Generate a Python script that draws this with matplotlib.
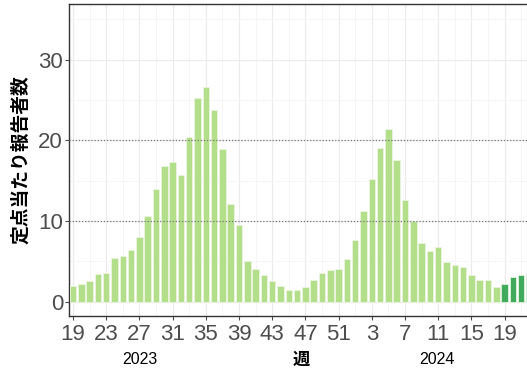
import matplotlib
matplotlib.use("Agg")
import matplotlib.pyplot as plt
from matplotlib.ticker import FixedLocator

plt.rcParams['font.family'] = ['Liberation Sans', 'Noto Sans CJK JP', 'DejaVu Sans']

weeks_2023 = list(range(19, 53))
values_2023 = [2.0, 2.2, 2.6, 3.4, 3.6, 5.4, 5.7, 6.4, 8.0, 10.6,
               14.0, 16.8, 17.3, 15.7, 20.4, 25.2, 26.6, 23.8, 18.9, 12.1,
               9.5, 5.1, 4.1, 3.3, 2.6, 2.0, 1.45, 1.45, 1.86, 2.65,
               3.5, 3.9, 4.1, 5.3]
weeks_2024 = list(range(1, 23))
values_2024 = [7.65, 11.2, 15.2, 19.05, 21.4, 17.55, 12.6, 9.95, 7.27, 6.24,
               6.76, 4.92, 4.5, 4.26, 3.35, 2.65, 2.73, 1.82, 2.23, 3.1,
               3.27, 3.5]
current_from_week_2024 = 19

tick_labels = ["19", "23", "27", "31", "35", "39", "43", "47", "51", "3", "7", "11", "15", "19"]
year_labels = ["2023", "2024"]

light = "#b3df8a"
dark = "#41ab5d"

values = values_2023 + values_2024
colors = [light] * len(values_2023) + [dark if w >= current_from_week_2024 else light for w in weeks_2024]
idx = list(range(len(values)))

fig = plt.figure(figsize=(5.27, 3.75), dpi=100)
W, H = 527, 375
px = 8.3
x0 = -0.45
x1 = 60
left = 69.3 / W
bottom = 1 - 316 / H
top = 1 - 4 / H
width = (x1 - x0) * px / W
ax = fig.add_axes([left, bottom, width, top - bottom])

ax.set_facecolor("white")
ax.bar(idx, values, width=0.78, color=colors, edgecolor="#eef8e6", linewidth=0.5, zorder=3)

ax.set_xlim(x0, x1)
ax.set_ylim(-1.77, 36.9)

ax.yaxis.set_major_locator(FixedLocator([0, 10, 20, 30]))
ax.yaxis.set_minor_locator(FixedLocator([5, 15, 25, 35]))
ax.xaxis.set_major_locator(FixedLocator(list(range(0, 53, 4))))
ax.xaxis.set_minor_locator(FixedLocator(list(range(2, 60, 4))))
ax.set_xticklabels(tick_labels)

ax.grid(which="major", color="#ebebeb", linewidth=0.8, zorder=0)
ax.grid(which="minor", color="#f4f4f4", linewidth=0.6, zorder=0)
for yv in (10, 20):
    ax.axhline(yv, color="#777777", linestyle=(0, (1, 1.5)), linewidth=0.9, zorder=4)

for s in ax.spines.values():
    s.set_color("#333333")
    s.set_linewidth(1.0)

ax.tick_params(axis="both", which="major", labelsize=16, colors="#4d4d4d", length=3, width=0.8)
ax.tick_params(axis="x", pad=2.5)
ax.tick_params(axis="y", pad=1.5)
ax.tick_params(axis="both", which="minor", length=0)

ax.set_ylabel("定点当たり報告者数", family=['Noto Sans CJK JP', 'DejaVu Sans'], fontsize=13.5,
              fontweight="bold", color="black", labelpad=6)

fig.text(140 / W, 1 - 360 / H, year_labels[0], ha="center", va="center", fontsize=11.5, color="black")
fig.text(437 / W, 1 - 360 / H, year_labels[1], ha="center", va="center", fontsize=11.5, color="black")
fig.text(301 / W, 1 - 360 / H, "週", ha="center", va="center", fontsize=12.5, fontweight="bold",
         family=['Noto Sans CJK JP', 'DejaVu Sans'], color="black")

fig.savefig("out.png", dpi=100)
